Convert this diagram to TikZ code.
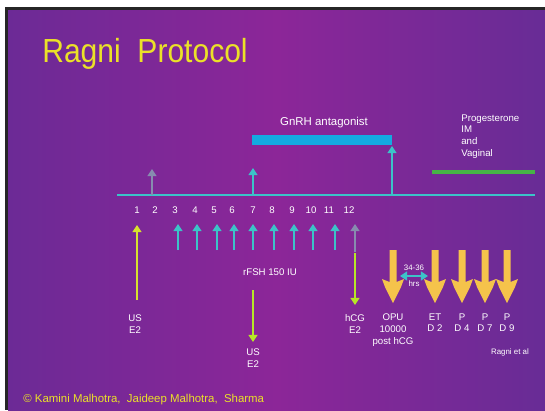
\documentclass[tikz,border=0pt]{standalone}
\usepackage{fontspec}
\setmainfont{Liberation Sans}
\usetikzlibrary{arrows.meta}
\definecolor{bgleft}{RGB}{108,42,150}
\definecolor{bgmid}{RGB}{140,38,152}
\definecolor{bgright}{RGB}{104,44,150}
\definecolor{titleyellow}{RGB}{235,225,40}
\definecolor{tealc}{RGB}{60,195,200}
\definecolor{barblue}{RGB}{20,170,225}
\definecolor{bargreen}{RGB}{70,180,70}
\definecolor{yelarrow}{RGB}{215,225,45}
\definecolor{fatgold}{RGB}{245,195,75}
\definecolor{fadeteal}{RGB}{135,140,175}
\tikzset{
	lbl/.style={text=white,font=\fontsize{5.5}{6.8}\selectfont,inner sep=0pt,align=center},
	tealarrow/.style={draw=tealc,line width=1.6pt,->},
	yelarrowline/.style={draw=yelarrow,line width=1.7pt,->},
}
\begin{document}
\begin{tikzpicture}[x=0.02cm,y=-0.02cm,>={Triangle[width=5pt,length=4pt]},line join=round]
	\useasboundingbox (0,0) rectangle (545,410);
	% slide background
	\fill[white] (0,0) rectangle (545,410);
	\fill[black!85] (5,7) rectangle (545,410);
	\shade[left color=bgleft,right color=bgright,middle color=bgmid] (8,10) rectangle (545,410);
	\node[anchor=base west,text=titleyellow,font=\fontsize{19}{22}\selectfont,xscale=.9,inner sep=0pt] (title) at (42,62) {Ragni\ \ Protocol};
	% time line and days
	\path
	(117,195)coordinate(TL)
	(535,195)coordinate(TR)
	;
	\draw[tealc,line width=1.2pt] (TL)--(TR);
	\foreach \d/\x in {1/137,2/155,3/175,4/195,5/214,6/232,7/253,8/272,9/292,10/311,11/329,12/349}
	\node[lbl,font=\fontsize{5.5}{7}\selectfont] (d\d) at (\x,210) {\d};
	% antagonist bar
	\fill[barblue] (252,135) rectangle (392,145);
	\node[lbl,font=\fontsize{6.5}{8}\selectfont] (gnrh) at (324,123) {GnRH antagonist};
	\path (392,195)coordinate(HB) (392,146)coordinate(HT);
	\draw[tealarrow] (HB)--(HT);
	\path (152,195)coordinate(U2b) (152,169)coordinate(U2t) (253,195)coordinate(U7b) (253,168)coordinate(U7t);
	\draw[tealarrow,draw=fadeteal] (U2b)--(U2t);
	\draw[tealarrow] (U7b)--(U7t);
	% luteal support
	\path (432,172)coordinate(GL) (535,172)coordinate(GR);
	\draw[bargreen,line width=2.8pt] (GL)--(GR);
	\node[lbl,align=left,anchor=north west] (luteal) at (461,114) {Progesterone\\IM\\and\\Vaginal};
	% daily injections
	\foreach \x [count=\i] in {178,197,217,234,253,274,294,313,335}
	{\path (\x,250)coordinate(s\i) (\x,224)coordinate(e\i);
	\draw[tealarrow] (s\i)--(e\i);}
	\path (355,252)coordinate(s10) (355,224)coordinate(e10);
	\draw[tealarrow,draw=fadeteal] (s10)--(e10);
	\node[lbl] (fsh) at (270,272) {rFSH 150 IU};
	% monitoring
	\path (137,300)coordinate(Y1b) (137,225)coordinate(Y1t)
	(253,290)coordinate(Y7t) (253,342)coordinate(Y7b)
	(355,253)coordinate(Y12t) (355,305)coordinate(Y12b);
	\draw[yelarrowline] (Y1b)--(Y1t);
	\draw[yelarrowline,draw=yelarrow!85!green] (Y7t)--(Y7b);
	\draw[yelarrowline,draw=yelarrow!85!green] (Y12t)--(Y12b);
	\node[lbl] (m1) at (135,324) {US\\E2};
	\node[lbl] (m7) at (253,358) {US\\E2};
	\node[lbl] (m12) at (355,324) {hCG\\E2};
	% retrieval and transfer
	\foreach \x/\t [count=\i] in {393/{OPU\\10000\\post hCG},435/{ET\\D 2},462/{P\\D 4},485/{P\\D 7},507/{P\\D 9}}
	{\fill[fatgold] (\x-3.5,250)--(\x+3.5,250)--(\x+3.5,282)--(\x+11,279)--(\x+8,287)--(\x,303)--(\x-8,287)--(\x-11,279)--(\x-3.5,282)--cycle;
	\node[lbl,anchor=north] (f\i) at (\x,313) {\t};}
	\path (400,276)coordinate(DL) (428,276)coordinate(DR);
	\draw[tealc,line width=1.5pt,<->] (DL)--(DR);
	\node[lbl,font=\fontsize{4.5}{5}\selectfont] (hrs) at (414,268) {34-36};
	\node[lbl,font=\fontsize{4.5}{5}\selectfont] (hrs2) at (414,284) {hrs};
	\node[lbl,font=\fontsize{4.5}{5}\selectfont] (ref) at (510,352) {Ragni et al};
	% footer
	\node[anchor=west,text=titleyellow,font=\fontsize{6.5}{7}\selectfont,inner sep=0pt] (foot) at (23,400) {© Kamini Malhotra,\ \ Jaideep Malhotra,\ \ Sharma};
\end{tikzpicture}
\end{document}
